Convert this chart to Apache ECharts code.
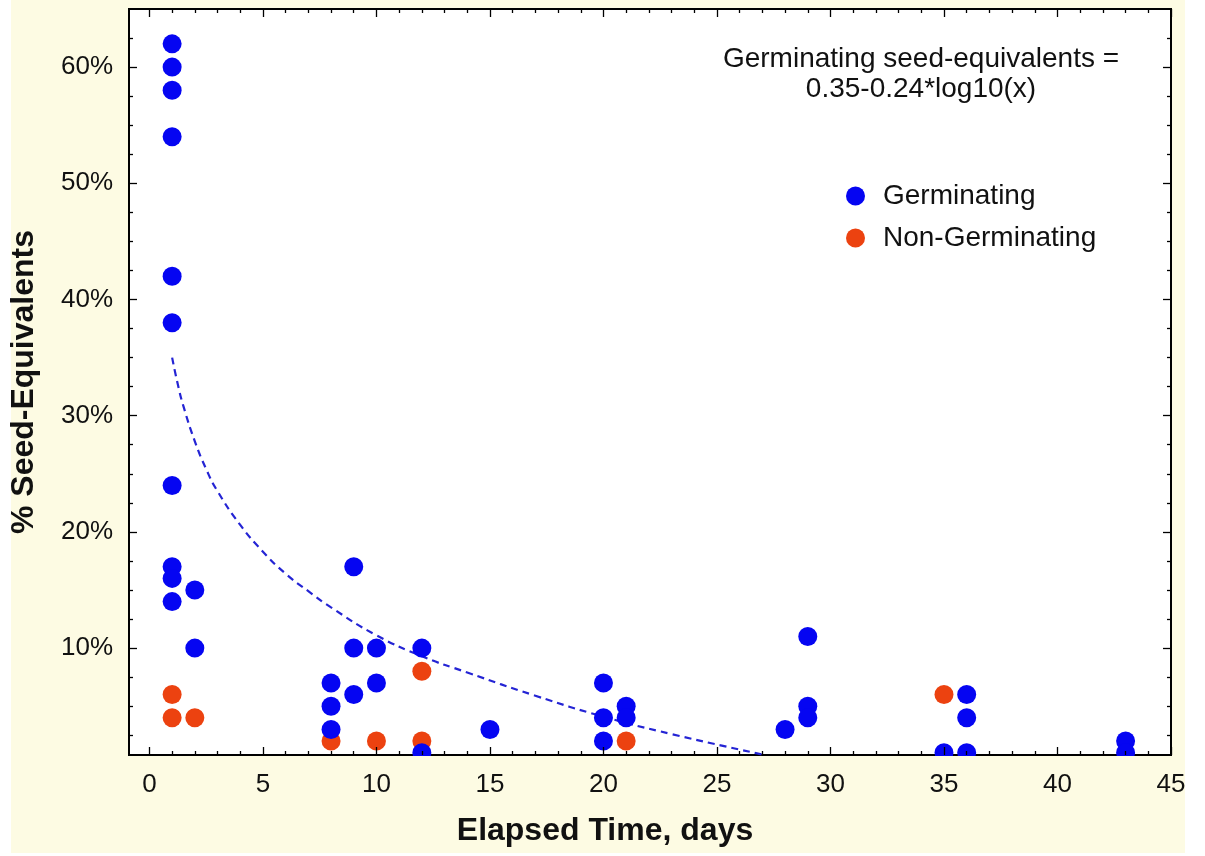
<!DOCTYPE html>
<html><head><meta charset="utf-8">
<script src="https://cdn.jsdelivr.net/npm/echarts@6/dist/echarts.min.js"></script>
<style>html,body{margin:0;padding:0;background:#fff;}#c{width:1205px;height:856px;}</style>
</head><body><div id="c"></div>
<script>
// ---- data ----
const germDays = [1,1,1,1,1,1,1,1,1,1, 2,2, 8,8,8, 9,9,9, 10,10, 12,12, 15, 20,20,20, 21,21, 28, 29,29,29, 35, 36,36,36, 43,43];
const germPct  = [62,60,58,54,42,38,24,17,16,14, 15,10, 7,5,3, 17,10,6, 10,7, 10,1, 3, 7,4,2, 5,4, 3, 11,5,4, 1, 6,4,1, 2,1];
const nonDays  = [1,1, 2, 8, 10, 12,12, 21, 35];
const nonPct   = [6,4, 4, 2, 2, 8,2, 2, 6];
// fitted curve (dashed)
const fitDays = [1, 1.25, 1.5, 2, 2.5, 3, 4, 5, 6, 7, 8, 10, 12, 14, 17, 20, 23, 27.1];
const fitPct  = [35, 32.7, 30.8, 27.8, 25.4, 23.5, 20.6, 18.3, 16.4, 14.9, 13.5, 11.1, 9.3, 7.9, 5.9, 4.1, 2.6, 0.8];
// ticks
const xMajorTicks = [0,5,10,15,20,25,30,35,40,45];
const xMinorTicks = [1,2,3,4,6,7,8,9,11,12,13,14,16,17,18,19,21,22,23,24,26,27,28,29,31,32,33,34,36,37,38,39,41,42,43,44];
const yMajorTicks = [10,20,30,40,50,60];
const yMinorTicks = [2.5,5,7.5,12.5,15,17.5,22.5,25,27.5,32.5,35,37.5,42.5,45,47.5,52.5,55,57.5,62.5];
const seriesNames = ['Germinating','Non-Germinating'];
const noteText = 'Germinating seed-equivalents =\n0.35-0.24*log10(x)';

const X_MIN = -0.9, X_MAX = 45, Y_MIN = 0.8, Y_MAX = 65;
const FONT = '"Liberation Sans", Arial, Helvetica, sans-serif';
const CREAM = '#fdfbe3';
const BLUE = '#0505f2';
const RED = '#ec4210';

function xAx(pos, ticks, len, labels, extra) {
  return Object.assign({
    type: 'value', position: pos, min: X_MIN, max: X_MAX, z: 10,
    axisLine: { show: false, onZero: false },
    axisTick: { show: true, inside: true, length: len, customValues: ticks, lineStyle: { color: '#000', width: 1.3 } },
    axisLabel: labels ? { show: true, customValues: xMajorTicks, margin: 17, fontSize: 26, color: '#111', fontFamily: FONT } : { show: false },
    splitLine: { show: false }
  }, extra || {});
}
function yAx(pos, ticks, len, labels, extra) {
  return Object.assign({
    type: 'value', position: pos, min: Y_MIN, max: Y_MAX, z: 10,
    axisLine: { show: false, onZero: false },
    axisTick: { show: true, inside: true, length: len, customValues: ticks, lineStyle: { color: '#000', width: 1.3 } },
    axisLabel: labels ? { show: true, customValues: yMajorTicks, margin: 16, fontSize: 26, color: '#111', fontFamily: FONT, formatter: '{value}%' } : { show: false },
    splitLine: { show: false }
  }, extra || {});
}

const chart = echarts.init(document.getElementById('c'), null, { renderer: 'canvas' });
chart.setOption({
  animation: false,
  backgroundColor: '#fff',
  grid: { left: 129, top: 9, width: 1042, height: 746, show: true, backgroundColor: '#fff', borderColor: '#000', borderWidth: 2, containLabel: false },
  graphic: [
    { type: 'rect', z: -100, silent: true, shape: { x: 11, y: 0, width: 1174, height: 853 }, style: { fill: CREAM } },
    // mask strip hiding marker parts below the plot frame
    { type: 'rect', z: 5, silent: true, shape: { x: 118, y: 756, width: 1065, height: 10 }, style: { fill: CREAM } },
    { type: 'text', z: 20, x: 921, y: 44, style: { text: noteText, font: '28px ' + FONT, fill: '#111', textAlign: 'center', lineHeight: 30 } }
  ],
  legend: {
    data: seriesNames, orient: 'vertical', left: 841, top: 177,
    itemWidth: 19, itemHeight: 19, itemGap: 14, icon: 'circle',
    textStyle: { fontSize: 28, lineHeight: 28, color: '#111', fontFamily: FONT, padding: [0, 0, 0, 13] }
  },
  xAxis: [
    xAx('bottom', xMajorTicks, 8, true, {
      name: 'Elapsed Time, days', nameLocation: 'middle', nameGap: 60,
      nameTextStyle: { fontSize: 32, fontWeight: 'bold', color: '#111', fontFamily: FONT, padding: [0, 90, 0, 0] }
    }),
    xAx('bottom', xMinorTicks, 4, false),
    xAx('top', xMajorTicks, 8, false),
    xAx('top', xMinorTicks, 4, false)
  ],
  yAxis: [
    yAx('left', yMajorTicks, 8, true, {
      name: '% Seed-Equivalents', nameLocation: 'middle', nameGap: 89,
      nameTextStyle: { fontSize: 32, fontWeight: 'bold', color: '#111', fontFamily: FONT }
    }),
    yAx('left', yMinorTicks, 4, false),
    yAx('right', yMajorTicks, 8, false),
    yAx('right', yMinorTicks, 4, false)
  ],
  series: [
    {
      name: 'fit', type: 'line', xAxisIndex: 0, yAxisIndex: 0, z: 1,
      data: fitDays.map((d, i) => [d, fitPct[i]]),
      showSymbol: false, symbol: 'none', smooth: true,
      lineStyle: { color: '#2424d4', width: 2.2, type: [7, 5] }
    },
    {
      name: seriesNames[1], type: 'scatter', xAxisIndex: 0, yAxisIndex: 0, z: 2,
      data: nonDays.map((d, i) => [d, nonPct[i]]),
      symbol: 'circle', symbolSize: 19, itemStyle: { color: RED, opacity: 1 }, clip: false
    },
    {
      name: seriesNames[0], type: 'scatter', xAxisIndex: 0, yAxisIndex: 0, z: 3,
      data: germDays.map((d, i) => [d, germPct[i]]),
      symbol: 'circle', symbolSize: 19, itemStyle: { color: BLUE, opacity: 1 }, clip: false
    }
  ]
});
</script>
</body></html>
